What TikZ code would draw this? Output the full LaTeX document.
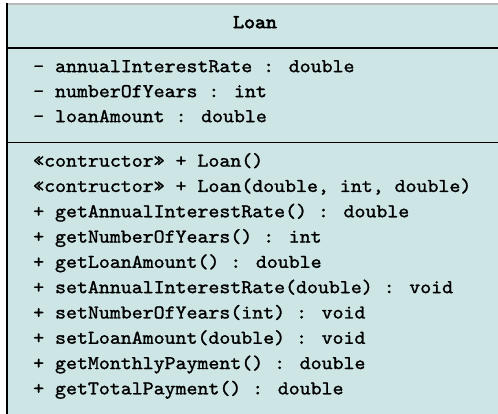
\documentclass[tikz,border=0pt]{standalone}
\usepackage{fontspec}
\newfontfamily\bodytt{lmmono10-regular.otf}[FakeBold=1.3, FakeStretch=1.07]
\newfontfamily\titlett{lmmono10-regular.otf}[FakeBold=3.2, FakeStretch=1.07]
\definecolor{boxfill}{RGB}{205,229,229}
\definecolor{topgray}{RGB}{185,185,185}
\begin{document}
\begin{tikzpicture}[x=1bp,y=-1bp,
  txt/.style={anchor=mid west, inner sep=0pt, font=\bodytt\fontsize{19.5bp}{22bp}\selectfont},
  ttl/.style={anchor=mid, inner sep=0pt, font=\titlett\fontsize{19.5bp}{22bp}\selectfont},
  edge/.style={line width=1.4bp, black}]
\useasboundingbox (0,0) rectangle (498,413);
\fill[boxfill] (7,4) rectangle (510,420);
\draw[topgray, line width=1.2bp] (7,4) -- (510,4);
\draw[edge] (7,3.4) -- (7,420);
\coordinate (s1l) at (7,48); \coordinate (s1r) at (510,48);
\coordinate (s2l) at (7,142.7); \coordinate (s2r) at (510,142.7);
\draw[edge] (s1l) -- (s1r);
\draw[edge] (s2l) -- (s2r);
\node[ttl] (title) at (255,26) {Loan};
\node[txt] (a1) at (33,70) {- annualInterestRate : double};
\node[txt] (a2) at (33,95) {- numberOfYears : int};
\node[txt] (a3) at (33,120) {- loanAmount : double};
\node[txt] (m1) at (33,164.5) {«contructor» + Loan()};
\node[txt] (m2) at (33,189.8) {«contructor» + Loan(double, int, double)};
\node[txt] (m3) at (33,215.1) {+ getAnnualInterestRate() : double};
\node[txt] (m4) at (33,240.4) {+ getNumberOfYears() : int};
\node[txt] (m5) at (33,265.7) {+ getLoanAmount() : double};
\node[txt] (m6) at (33,291) {+ setAnnualInterestRate(double) : void};
\node[txt] (m7) at (33,316.3) {+ setNumberOfYears(int) : void};
\node[txt] (m8) at (33,341.6) {+ setLoanAmount(double) : void};
\node[txt] (m9) at (33,366.9) {+ getMonthlyPayment() : double};
\node[txt] (m10) at (33,392.2) {+ getTotalPayment() : double};
\end{tikzpicture}
\end{document}
